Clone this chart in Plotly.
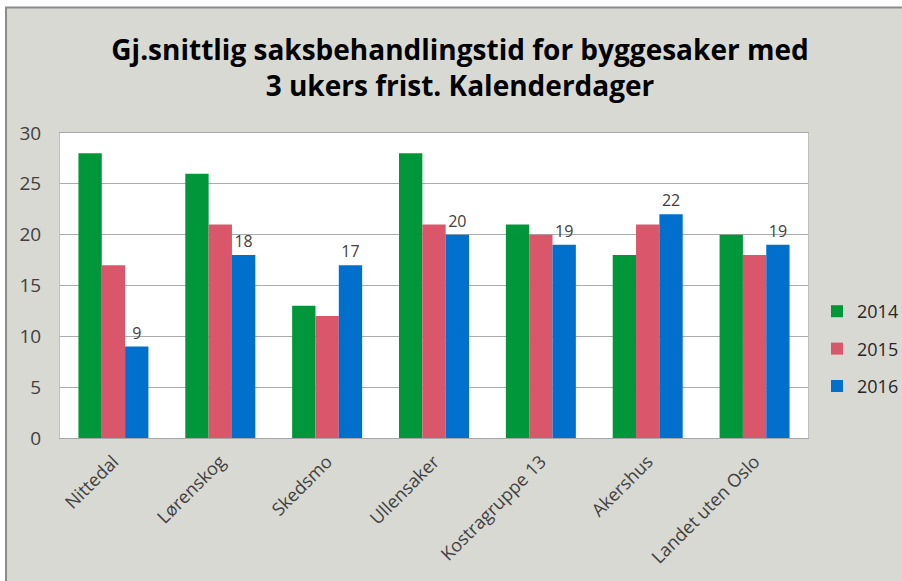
import plotly.graph_objects as go

categories = ["Nittedal", "Lørenskog", "Skedsmo", "Ullensaker", "Kostragruppe 13", "Akershus", "Landet uten Oslo"]
v2014 = [28, 26, 13, 28, 21, 18, 20]
v2015 = [17, 21, 12, 21, 20, 21, 18]
v2016 = [9, 18, 17, 20, 19, 22, 19]
years = ["2014", "2015", "2016"]
colors = ["#00963A", "#D9566B", "#0070CC"]
y_ticks = [0, 5, 10, 15, 20, 25, 30]

W, H = 902, 581
L, R, T, B = 60, 94, 133, 143
pw, ph = W - L - R, H - T - B

def px_x(p):
    return (p - L) / pw

def px_y(p):
    return (H - B - p) / ph

fig = go.Figure()
for i, (yr, vals) in enumerate(zip(years, [v2014, v2015, v2016])):
    fig.add_trace(go.Bar(
        x=categories, y=vals, name=yr,
        marker=dict(color=colors[i], line=dict(width=0)),
        text=[str(v) for v in vals] if yr == "2016" else None,
        textposition="outside" if yr == "2016" else None,
        textfont=dict(family="Open Sans", size=16, color="#404040"),
        cliponaxis=False,
        legendgroup=yr,
    ))

bg = "#D9D9D4"
fig.update_layout(
    width=W, height=H,
    margin=dict(l=L, r=R, t=T, b=B, autoexpand=False),
    paper_bgcolor=bg, plot_bgcolor="white",
    barmode="group", bargap=0.345, bargroupgap=0,
    title=dict(
        text="Gj.snittlig saksbehandlingstid for byggesaker med<br>3 ukers frist. Kalenderdager",
        x=460 / W, xanchor="center", y=1 - 60 / H, yanchor="middle",
        font=dict(family="Open Sans", size=28, color="#000000", weight="bold"),
    ),
    font=dict(family="Open Sans", color="#404040"),
    showlegend=True,
    legend=dict(
        x=px_x(817), xanchor="left", y=px_y(349), yanchor="middle",
        font=dict(size=18, color="#262626"), bgcolor="rgba(0,0,0,0)",
        traceorder="grouped", tracegroupgap=11, itemwidth=30,
    ),
    xaxis=dict(
        tickangle=-45, tickfont=dict(size=18, color="#404040"),
        showline=True, linecolor="#A6A6A6", linewidth=1, mirror=True,
        ticks="", showgrid=False, ticklabelstandoff=5,
    ),
    yaxis=dict(
        range=[0, 30], tickvals=y_ticks, tickfont=dict(size=19, color="#404040"),
        showgrid=True, gridcolor="#ABABAB", gridwidth=1,
        showline=True, linecolor="#BFBFBF", linewidth=1, mirror=True,
        ticks="", ticklabelstandoff=14, zeroline=False,
    ),
    shapes=[
        dict(type="rect", xref="paper", yref="paper",
             x0=px_x(-2), x1=px_x(W + 2), y0=px_y(-2), y1=px_y(7),
             fillcolor="white", line=dict(width=0), layer="below"),
        dict(type="rect", xref="paper", yref="paper",
             x0=px_x(-2), x1=px_x(5), y0=px_y(-2), y1=px_y(H + 2),
             fillcolor="white", line=dict(width=0), layer="below"),
        dict(type="line", xref="paper", yref="paper",
             x0=px_x(5), x1=px_x(W + 2), y0=px_y(7.5), y1=px_y(7.5),
             line=dict(color="#8C8C8C", width=2), layer="below"),
        dict(type="line", xref="paper", yref="paper",
             x0=px_x(6), x1=px_x(6), y0=px_y(7), y1=px_y(H + 2),
             line=dict(color="#8C8C8C", width=2), layer="below"),
    ],
)

fig.write_html(
    "out.html",
    config={"displayModeBar": False},
    post_script="document.body.style.margin='0';document.body.style.overflow='hidden';",
)
